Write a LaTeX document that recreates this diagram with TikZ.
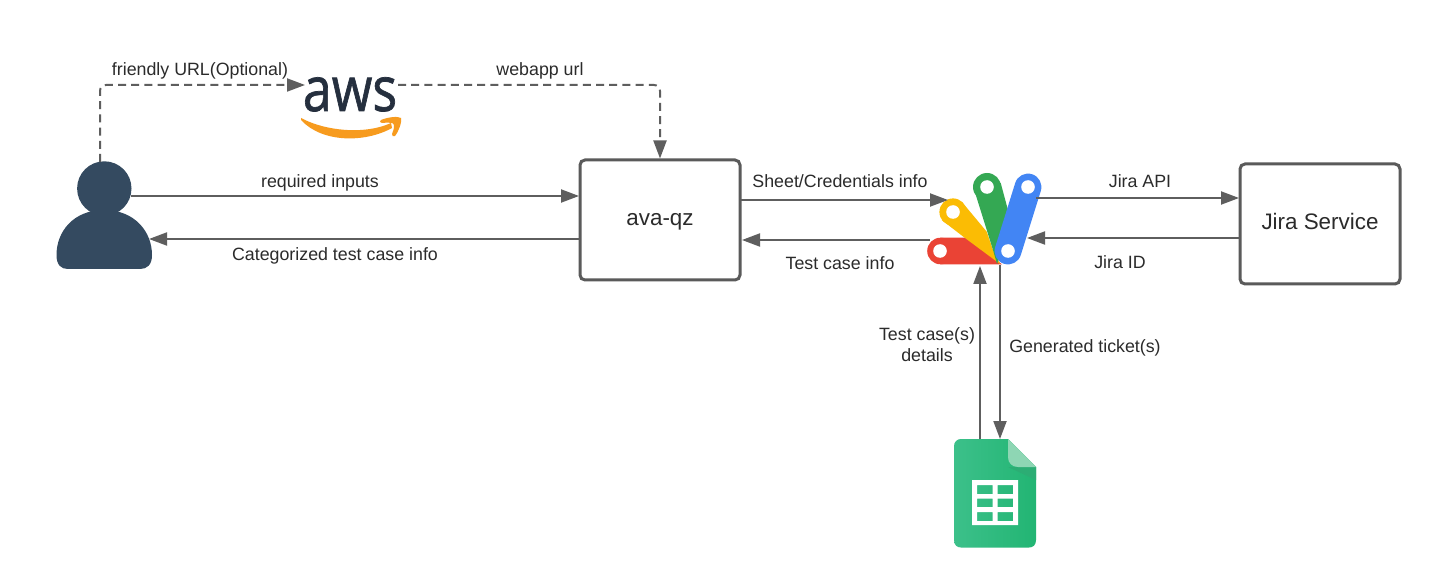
\documentclass[tikz,border=0pt]{standalone}
\usepackage{fontspec}
\setmainfont{Liberation Sans}
\newfontfamily\awsfont[FakeBold=1.2]{Open Sans}
\usetikzlibrary{arrows.meta}
\definecolor{conn}{HTML}{5E5E5E}
\definecolor{boxline}{HTML}{5A5A5A}
\definecolor{txt}{HTML}{2B2B2B}
\definecolor{person}{HTML}{344A60}
\definecolor{awsink}{HTML}{252F3E}
\definecolor{awsorange}{HTML}{F79B1E}
\definecolor{gred}{HTML}{EA4335}
\definecolor{gyellow}{HTML}{FBBC04}
\definecolor{ggreen}{HTML}{34A853}
\definecolor{gblue}{HTML}{4285F4}
\definecolor{sheetA}{HTML}{3CC08A}
\definecolor{sheetB}{HTML}{22B573}
\definecolor{sheetfold}{HTML}{8ED6B4}
\definecolor{sheetshade}{HTML}{2CAD74}
\tikzset{
  wire/.style={draw=conn,line width=1pt,-{Triangle[length=9pt,width=6.5pt]}},
  dashwire/.style={wire,dash pattern=on 4pt off 2.6pt,rounded corners=3pt},
  procbox/.style={draw=boxline,line width=1.5pt,rounded corners=2.5pt,fill=white,text=txt,font=\fontsize{11.2}{13}\selectfont,minimum width=80pt,minimum height=60pt,inner sep=0pt,text height=8pt,text depth=2.5pt},
  lblm/.style={text=txt,font=\fontsize{8.9}{10.6}\selectfont,inner sep=0pt,align=center},
  lbl/.style={lblm,text height=6.5pt,text depth=2pt},
  slot/.style={inner sep=0pt,minimum width=0pt,minimum height=0pt}
}
\begin{document}
\begin{tikzpicture}[x=0.5pt,y=-0.5pt]
\useasboundingbox (0,0) rectangle (1440,588);
\fill[white] (0,0) rectangle (1440,588);

% person
\fill[person] (104.3,188.5) circle [radius=13.6pt];
\fill[person] (56.5,255) .. controls (56.5,232) and (73,210) .. (104,210) .. controls (135,210) and (152,232) .. (152,255)
  .. controls (152,265) and (147,269) .. (140,269) -- (68,269) .. controls (61,269) and (56.5,265) .. (56.5,255) -- cycle;
\node[slot,minimum width=48pt,minimum height=53.5pt] (user) at (104,215.5) {};

% AWS
\node[slot,anchor=base,text=awsink,font=\awsfont\fontsize{31}{31}\selectfont] (aws) at (350,111) {\scalebox{0.84}[1]{aws}};
\fill[awsorange] (301,118) .. controls (325,131) and (365,135) .. (391,123)
  -- (392,128) .. controls (365,143) and (322,143) .. (301,120) -- cycle;
\fill[awsorange] (381,120) .. controls (388,117) and (398,116) .. (401,118) .. controls (402,122) and (399,131) .. (395,136)
  .. controls (393,137) and (392,136) .. (392,134) .. controls (394,129) and (395,125) .. (393,123.5) .. controls (391,122.5) and (387,122.5) .. (382,123) .. controls (380,123) and (379,121) .. (381,120) -- cycle;

% process boxes
\node[procbox] (ava) at (660,220) {ava-qz};
\node[procbox] (jira) at (1320,224) {Jira Service};

% Apps Script logo
\fill[gred] (940.5,251) circle [radius=6.65pt];
\fill[gred] (940.5,237.7) -- (968,237.7) -- (1002,264.4) -- (940.5,264.3) -- cycle;
\fill[gyellow] (953,212) circle [radius=6.8pt];
\fill[gyellow] (961.7,201.7) -- (986.7,231.7) -- (993,250) -- (1000,264) -- (965,238) -- (941.7,220) -- cycle;
\fill[ggreen] (987,187) circle [radius=7pt];
\fill[ggreen] (973.3,187) -- (1000.7,183) -- (1012,225) -- (997,264) -- (993,250) -- cycle;
\draw[gblue,line width=13.4pt,line cap=round] (1028,187) -- (1008,251);
\fill[white] (940,251) circle [radius=3.4pt];
\fill[white] (953,212) circle [radius=3.4pt];
\fill[white] (987,187) circle [radius=3.4pt];
\fill[white] (1028,187) circle [radius=3.4pt];
\fill[white] (1008,251) circle [radius=3.4pt];
\node[slot,minimum width=57pt,minimum height=45pt] (gas) at (984,220) {};

% Sheets icon
\shade[left color=sheetA,right color=sheetB] (961,439) -- (1008,439) -- (1036,467) -- (1036,540)
  .. controls (1036,545) and (1033,547.5) .. (1029,547.5) -- (961,547.5)
  .. controls (957,547.5) and (954,545) .. (954,540) -- (954,446)
  .. controls (954,442) and (957,439) .. (961,439) -- cycle;
\fill[sheetshade] (1008,467) -- (1036,467) -- (1036,480) -- cycle;
\fill[sheetfold] (1008,439) -- (1036,467) -- (1018,467) .. controls (1012,467) and (1008,463) .. (1008,457) -- cycle;
\fill[white,even odd rule] (972,480) rectangle (1018,525)
  (977,485) rectangle (992.5,494) (997.5,485) rectangle (1013,494)
  (977,498.5) rectangle (992.5,507) (997.5,498.5) rectangle (1013,507)
  (977,512) rectangle (992.5,521) (997.5,512) rectangle (1013,521);
\node[slot,minimum width=41pt,minimum height=54.5pt] (sheet) at (995,493) {};

% connector ports
\coordinate (userTop) at (100,162);
\coordinate (bendA) at (100,85);
\coordinate (awsIn) at (305,85);
\coordinate (awsOut) at (398,85);
\coordinate (bendB) at (660,85);
\coordinate (avaTop) at (660,158.5);
\coordinate (userR) at (131,196);
\coordinate (avaInL) at (579,196);
\coordinate (avaOutL) at (580,239);
\coordinate (userIn) at (149,239);
\coordinate (avaOutR) at (741,200);
\coordinate (gasInL) at (948,200);
\coordinate (gasOutL) at (930,240);
\coordinate (avaInR) at (742,240);
\coordinate (gasOutR) at (1036,198);
\coordinate (jiraInL) at (1239,198);
\coordinate (jiraOutL) at (1240,238);
\coordinate (gasInR) at (1027,238);
\coordinate (sheetOutA) at (980,439);
\coordinate (gasInB) at (980,266);
\coordinate (gasOutB) at (1000,265);
\coordinate (sheetInB) at (1000,439);

% connectors
\draw[dashwire] (userTop) -- (bendA) -- (awsIn);
\draw[dashwire] (awsOut) -- (bendB) -- (avaTop);
\draw[wire] (userR) -- (avaInL);
\draw[wire] (avaOutL) -- (userIn);
\draw[wire] (avaOutR) -- (gasInL);
\draw[wire] (gasOutL) -- (avaInR);
\draw[wire] (gasOutR) -- (jiraInL);
\draw[wire] (jiraOutL) -- (gasInR);
\draw[wire] (sheetOutA) -- (gasInB);
\draw[wire] (gasOutB) -- (sheetInB);

% labels
\node[lbl] (l1) at (200,71.5) {friendly URL(Optional)};
\node[lbl] (l2) at (540,71.5) {webapp url};
\node[lbl] (l3) at (320,183.5) {required inputs};
\node[lbl] (l4) at (335,256.5) {Categorized test case info};
\node[lbl] (l5) at (840,183.5) {Sheet/Credentials info};
\node[lbl] (l6) at (840,265.5) {Test case info};
\node[lbl] (l7) at (1140,183.5) {Jira API};
\node[lbl] (l8) at (1120,264.5) {Jira ID};
\node[lblm] (l9) at (927,345) {Test case(s)\\details};
\node[lbl] (l10) at (1085,348) {Generated ticket(s)};
\end{tikzpicture}
\end{document}
